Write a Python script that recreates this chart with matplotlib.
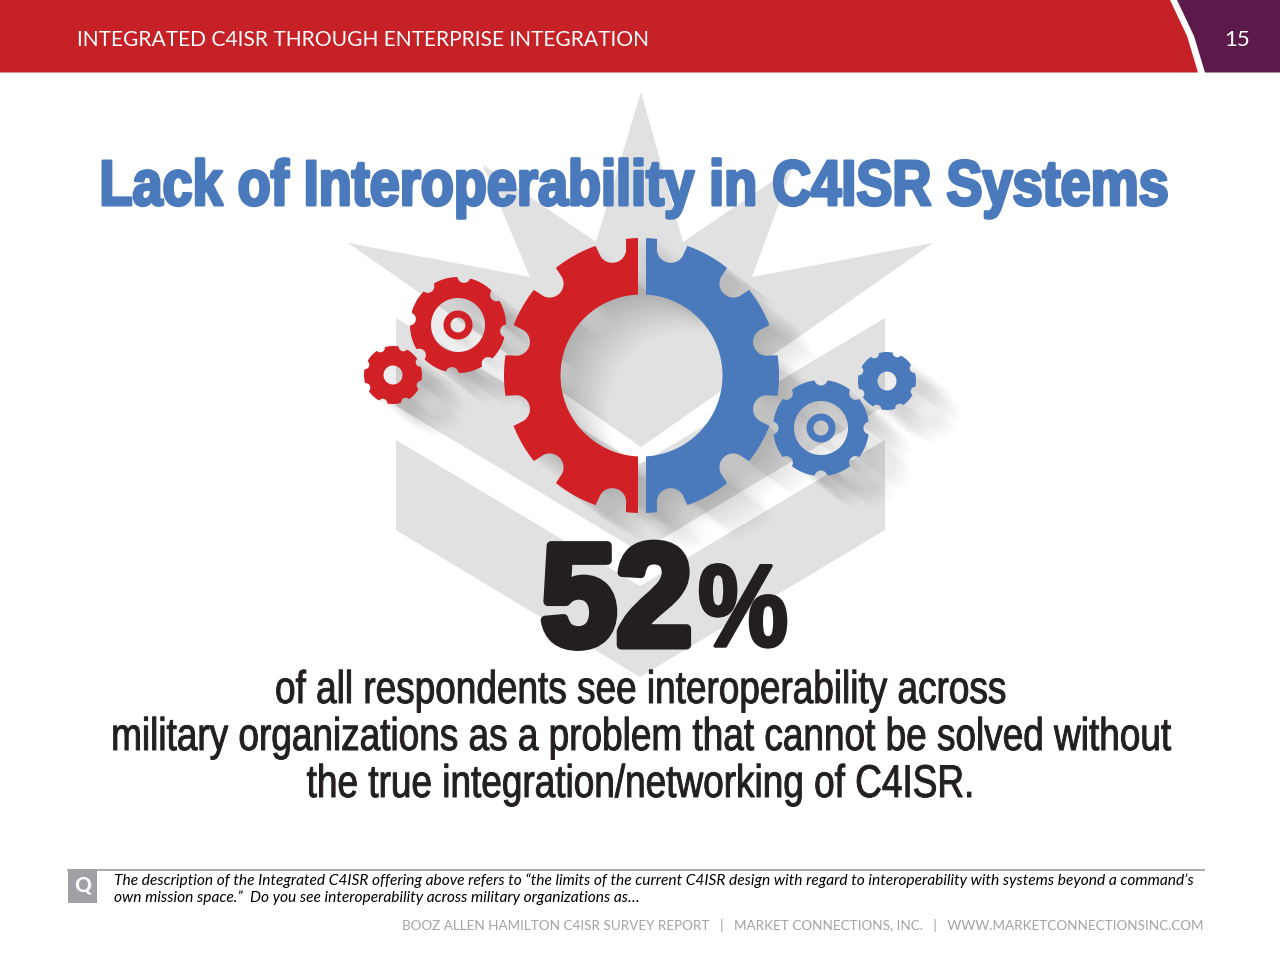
"""Slide: lack of interoperability in C4ISR systems, drawn in pixel coordinates."""

import matplotlib
matplotlib.use("Agg")
import matplotlib.patheffects as pe
import matplotlib.pyplot as plt
import numpy as np
from matplotlib.patches import PathPatch, Polygon, Rectangle
from matplotlib.path import Path
from matplotlib.transforms import Affine2D

HEADER_TEXT = "INTEGRATED C4ISR THROUGH ENTERPRISE INTEGRATION"
PAGE_NUMBER = "15"
TITLE = "Lack of Interoperability in C4ISR Systems"
PERCENT_VALUE = "52"
BODY_LINES = [
    "of all respondents see interoperability across",
    "military organizations as a problem that cannot be solved without",
    "the true integration/networking of C4ISR.",
]
QUESTION_LINES = [
    "The description of the Integrated C4ISR offering above refers to \u201cthe limits of the current "
    "C4ISR design with regard to interoperability with systems beyond a command\u2019s",
    "own mission space.\u201d  Do you see interoperability across military organizations as\u2026",
]
FOOTER = ("BOOZ ALLEN HAMILTON C4ISR SURVEY REPORT   |   MARKET CONNECTIONS, INC.   |   "
          "WWW.MARKETCONNECTIONSINC.COM")

RED = "#d12127"
HEADER_RED = "#c62127"
PURPLE = "#5c1a4a"
BLUE = "#4a7abc"
EMBLEM = "#e1e1e1"
INK = "#231f20"

STAR = [(641, 92), (683, 242), (792, 168), (752, 277), (933, 243), (641, 447),
        (348, 243), (530, 277), (483, 165), (596, 242)]
CHEVRON_1 = [(396, 318), (640, 464), (885, 318), (885, 406), (640, 552), (396, 406)]
CHEVRON_2 = [(396, 440), (640, 586), (885, 440), (885, 530), (640, 677), (396, 530)]

BIG_NOTCH_DEG = [15, 45, 77, 103, 135, 165, 195, 225, 257, 283, 315, 345]
# colour, cx, cy, outer r, hole r, ring outer, ring inner, notch r, first notch angle
SMALL_GEARS = [
    (RED, 458, 325, 48, 27, 14.5, 7.5, 6.5, 7),
    (RED, 393, 375, 29, 9.5, 0, 0, 4.5, 20),
    (BLUE, 821, 428, 48, 27, 14.5, 7.5, 6.5, 0),
    (BLUE, 887, 381, 29, 9.5, 0, 0, 4.5, 20),
]


class Squeeze(pe.AbstractPathEffect):
    """Condense a text horizontally about its anchor, no narrow font being installed."""

    def __init__(self, x, y, sx=1.0, sy=1.0, stroke=0.0):
        super().__init__()
        self.x0, self.y0 = x, 960 - y
        self.sx, self.sy = sx, sy
        self.stroke = stroke

    def draw_path(self, renderer, gc, tpath, affine, rgbFace=None):
        fit = (Affine2D().translate(-self.x0, -self.y0).scale(self.sx, self.sy)
               .translate(self.x0, self.y0))
        gc0 = renderer.new_gc()
        gc0.copy_properties(gc)
        gc0.set_linewidth(self.stroke)
        gc0.set_foreground(rgbFace)
        renderer.draw_path(gc0, tpath, affine + fit, rgbFace)
        gc0.restore()


def circle_ring(cx, cy, r, reverse=False):
    t = np.linspace(0, 2 * np.pi, 181)
    if reverse:
        t = t[::-1]
    return np.column_stack([cx + r * np.cos(t), cy + r * np.sin(t)])


def gear_outline(cx, cy, r, notch_deg, notch_r, notch_dist):
    """Circle of radius r with round bites taken out at the given angles."""
    t = np.radians(np.arange(0, 360, 0.5))
    radius = np.full(t.shape, float(r))
    for deg in notch_deg:
        phi = t - np.radians(deg)
        sin_p, cos_p = np.sin(phi), np.cos(phi)
        disc = notch_r ** 2 - (notch_dist * sin_p) ** 2
        hit = (disc >= 0) & (cos_p > 0)
        bite = notch_dist * cos_p[hit] - np.sqrt(disc[hit])
        radius[hit] = np.minimum(radius[hit], bite)
    pts = np.column_stack([cx + radius * np.cos(t), cy + radius * np.sin(t)])
    return np.vstack([pts, pts[:1]])


def compound(rings):
    verts = np.vstack(rings)
    codes = []
    for ring in rings:
        codes += [Path.MOVETO] + [Path.LINETO] * (len(ring) - 2) + [Path.CLOSEPOLY]
    return Path(verts, codes)


def gear_path(cx, cy, r, hole, ring_out, ring_in, notch_deg, notch_r, notch_dist):
    rings = [gear_outline(cx, cy, r, notch_deg, notch_r, notch_dist),
             circle_ring(cx, cy, hole, reverse=True)]
    if ring_out:
        rings += [circle_ring(cx, cy, ring_out), circle_ring(cx, cy, ring_in, reverse=True)]
    return compound(rings)


def draw_shadow(ax, path, length, steps=24, alpha=0.008):
    for k in range(1, steps + 1):
        d = length * k / steps
        moved = Path(path.vertices + np.array([0.8 * d, 0.6 * d]), path.codes)
        ax.add_patch(PathPatch(moved, fc="black", ec="none", alpha=alpha, zorder=2))


fig = plt.figure(figsize=(12.8, 9.6), dpi=100)
ax = fig.add_axes([0, 0, 1, 1])
ax.set_xlim(0, 1280)
ax.set_ylim(960, 0)
ax.axis("off")

SANS = ["Liberation Sans", "DejaVu Sans"]
LATO = ["Lato", "DejaVu Sans"]

# header band
ax.add_patch(Polygon([(0, 0), (1170, 0), (1187, 36), (1198, 72.5), (0, 72.5)], fc=HEADER_RED, ec="none"))
ax.add_patch(Polygon([(1177, 0), (1280, 0), (1280, 72.5), (1205, 72.5), (1194, 36)], fc=PURPLE, ec="none"))
ax.text(77, 39.5, HEADER_TEXT, color="white", fontsize=15.1, family=LATO, va="center", ha="left")
ax.text(1237, 40, PAGE_NUMBER, color="white", fontsize=16, family=LATO, va="center", ha="center")

# emblem behind the gears
for shape in (STAR, CHEVRON_1, CHEVRON_2):
    ax.add_patch(Polygon(shape, fc=EMBLEM, ec="none", zorder=1))

# big gear, split in two halves
big = gear_path(641.5, 375.5, 137.5, 81, 0, 0, BIG_NOTCH_DEG, 14, 130)
draw_shadow(ax, big, 60)
for color, x0, x1 in ((RED, 480, 638), (BLUE, 646, 800)):
    patch = PathPatch(big, fc=color, ec="none", zorder=4)
    ax.add_patch(patch)
    patch.set_clip_path(Rectangle((x0, 200), x1 - x0, 350, transform=ax.transData))

# small gears
for color, cx, cy, r, hole, ring_out, ring_in, notch_r, start in SMALL_GEARS:
    notches = [start + 45 * i for i in range(8)]
    path = gear_path(cx, cy, r, hole, ring_out, ring_in, notches, notch_r, r + 1)
    draw_shadow(ax, path, 55)
    ax.add_patch(PathPatch(path, fc=color, ec="none", zorder=5))

# headline and big number
ax.text(634, 205, TITLE, color=BLUE, fontsize=46, family=SANS, weight="bold", ha="center",
        va="baseline", zorder=6, path_effects=[Squeeze(634, 205, sx=0.846, stroke=2.2)])
ax.text(541, 645, PERCENT_VALUE, color=INK, fontsize=104, family=SANS, weight="bold", ha="left",
        va="baseline", zorder=6, path_effects=[Squeeze(541, 645, sx=0.94, stroke=6.5)])
ax.text(698, 646, "%", color=INK, fontsize=84, family=SANS, weight="bold", ha="left",
        va="baseline", zorder=6, path_effects=[Squeeze(698, 646, sx=0.87, stroke=2.5)])

for line, base in zip(BODY_LINES, (703, 750, 797)):
    ax.text(640, base, line, color=INK, fontsize=30, family=SANS, ha="center", va="baseline", zorder=6,
            path_effects=[Squeeze(640, base, sx=0.887, sy=1.1, stroke=0.7)])

# question note and footer
ax.plot([68, 1204], [869.5, 869.5], color="#9a9a9a", lw=1.2, zorder=3)
ax.add_patch(Rectangle((68, 870), 29, 33, fc="#a0a1a4", ec="none", zorder=3))
ax.text(82.5, 885, "Q", color="white", fontsize=15, family=LATO, weight="black", ha="center",
        va="center", zorder=4)
for line, y in zip(QUESTION_LINES, (881, 898)):
    ax.text(114, y, line, color="black", fontsize=11.2, family=LATO, style="italic", ha="left", va="center")
ax.text(1203, 925, FOOTER, color="#a3a3a3", fontsize=9.74, family=LATO, ha="right", va="center")

fig.savefig("out.png", dpi=100)
